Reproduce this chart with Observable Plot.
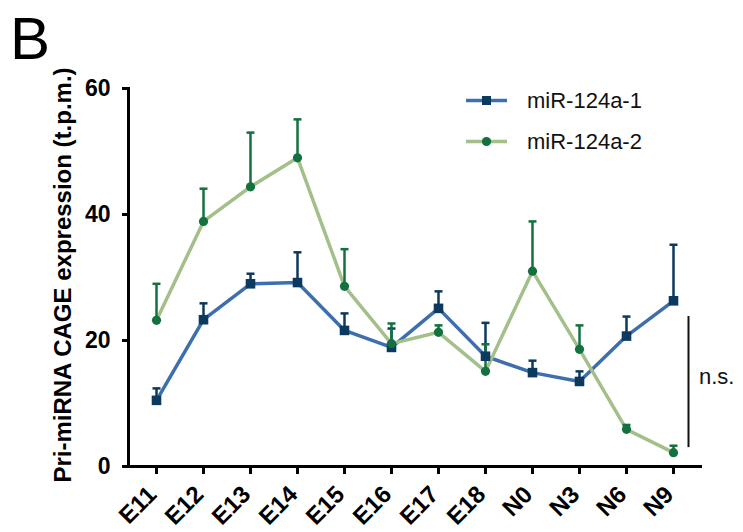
<!DOCTYPE html>
<html>
<head>
<meta charset="utf-8">
<script src="https://cdn.jsdelivr.net/npm/d3@7"></script>
<script src="https://cdn.jsdelivr.net/npm/@observablehq/plot@0.6"></script>
<style>
  html, body { margin: 0; padding: 0; background: #fff; }
  #wrap { position: relative; width: 743px; height: 532px; font-family: "Liberation Sans", Arial, sans-serif; }
  #panel { position: absolute; left: 10px; top: 4px; font-size: 60px; color: #000; }
  #legend { position: absolute; left: 466px; top: 80px; font-size: 22px; color: #111; }
  #legend div { display: flex; align-items: center; height: 41px; }
  #legend svg { margin-right: 20px; }
  #ns { position: absolute; left: 699px; top: 364px; font-size: 22px; color: #111; }
  #ylabel { position: absolute; left: 63px; top: 275px; transform: translate(-50%, -50%) rotate(-90deg);
    white-space: nowrap; font-size: 24px; font-weight: bold; color: #000; }
</style>
</head>
<body>
<div id="wrap">
  <div id="chart"></div>
  <div id="panel">B</div>
  <div id="ylabel"></div>
  <div id="legend"></div>
  <div id="ns">n.s.</div>
</div>
<script>
const stages = ["E11","E12","E13","E14","E15","E16","E17","E18","N0","N3","N6","N9"];
const series1Name = "miR-124a-1";
const series2Name = "miR-124a-2";
const yLabel = "Pri-miRNA CAGE expression (t.p.m.)";
const mir1 = [10.5, 23.3, 29.0, 29.2, 21.6, 18.9, 25.1, 17.5, 14.9, 13.5, 20.7, 26.3];
const mir1Sem = [1.9, 2.6, 1.6, 4.8, 2.7, 3.0, 2.7, 5.3, 1.9, 1.6, 3.1, 8.9];
const mir2 = [23.2, 38.9, 44.4, 49.0, 28.6, 19.5, 21.3, 15.1, 31.0, 18.6, 5.9, 2.2];
const mir2Sem = [5.8, 5.2, 8.6, 6.1, 5.9, 3.2, 1.1, 4.3, 7.9, 3.8, 0.7, 1.1];
const yTicks = [0, 20, 40, 60];

const blueLine = "#3d6fad", blueMark = "#0c3a5e";
const greenLine = "#a3c08b", greenMark = "#13703f";

const d1 = stages.map((s, i) => ({stage: s, v: mir1[i], top: mir1[i] + mir1Sem[i]}));
const d2 = stages.map((s, i) => ({stage: s, v: mir2[i], top: mir2[i] + mir2Sem[i]}));

const capSymbol = {
  draw(ctx, size) {
    const r = Math.sqrt(size) / 2;
    ctx.moveTo(-r, 0);
    ctx.lineTo(r, 0);
  }
};

const plot = Plot.plot({
  width: 743,
  height: 532,
  marginLeft: 128,
  marginRight: 43,
  marginTop: 88,
  marginBottom: 66,
  style: {fontFamily: "Liberation Sans, Arial, sans-serif", color: "#000", background: "#fff"},
  x: {type: "point", domain: stages, padding: 0.5},
  y: {domain: [0, 60]},
  marks: [
    Plot.axisY({ticks: yTicks, tickSize: 6, tickPadding: 12, fontSize: 23, fontWeight: "bold", strokeWidth: 3,
      label: null, tickFormat: d => d}),
    Plot.axisX({tickSize: 8, tickFormat: () => "", strokeWidth: 3, label: null}),
    Plot.axisX({tickSize: 0, tickPadding: 24, tickRotate: -45, fontSize: 24, fontWeight: "bold", label: null, dx: -4}),
    Plot.frame({anchor: "left", strokeWidth: 3}),
    Plot.frame({anchor: "bottom", strokeWidth: 3}),
    Plot.line(d1, {x: "stage", y: "v", stroke: blueLine, strokeWidth: 3.5}),
    Plot.line(d2, {x: "stage", y: "v", stroke: greenLine, strokeWidth: 3.5}),
    Plot.ruleX(d1, {x: "stage", y1: "v", y2: "top", stroke: blueMark, strokeWidth: 2.5}),
    Plot.dot(d1, {x: "stage", y: "top", symbol: capSymbol, r: 4.5, stroke: blueMark, strokeWidth: 2.5}),
    Plot.ruleX(d2, {x: "stage", y1: "v", y2: "top", stroke: greenMark, strokeWidth: 2.5}),
    Plot.dot(d2, {x: "stage", y: "top", symbol: capSymbol, r: 4.5, stroke: greenMark, strokeWidth: 2.5}),
    Plot.dot(d1, {x: "stage", y: "v", symbol: "square", r: 5.4, fill: blueMark, stroke: "none"}),
    Plot.dot(d2, {x: "stage", y: "v", symbol: "circle", r: 4.6, fill: greenMark, stroke: "none"}),
    Plot.ruleX([stages[stages.length - 1]], {y1: 3, y2: 23.8, dx: 15, stroke: "#111", strokeWidth: 2})
  ]
});
document.getElementById("chart").appendChild(plot);
document.getElementById("ylabel").textContent = yLabel;

const legend = document.getElementById("legend");
[[series1Name, blueLine, blueMark, "sq"], [series2Name, greenLine, greenMark, "ci"]].forEach(([name, lc, mc, sh]) => {
  const row = document.createElement("div");
  const marker = sh === "sq"
    ? `<rect x="16" y="3" width="9" height="9" fill="${mc}"/>`
    : `<circle cx="20.5" cy="7.5" r="4.6" fill="${mc}"/>`;
  row.innerHTML = `<svg width="41" height="15"><line x1="0" x2="41" y1="7.5" y2="7.5" stroke="${lc}" stroke-width="3.5"/>${marker}</svg><span>${name}</span>`;
  legend.appendChild(row);
});
</script>
</body>
</html>
